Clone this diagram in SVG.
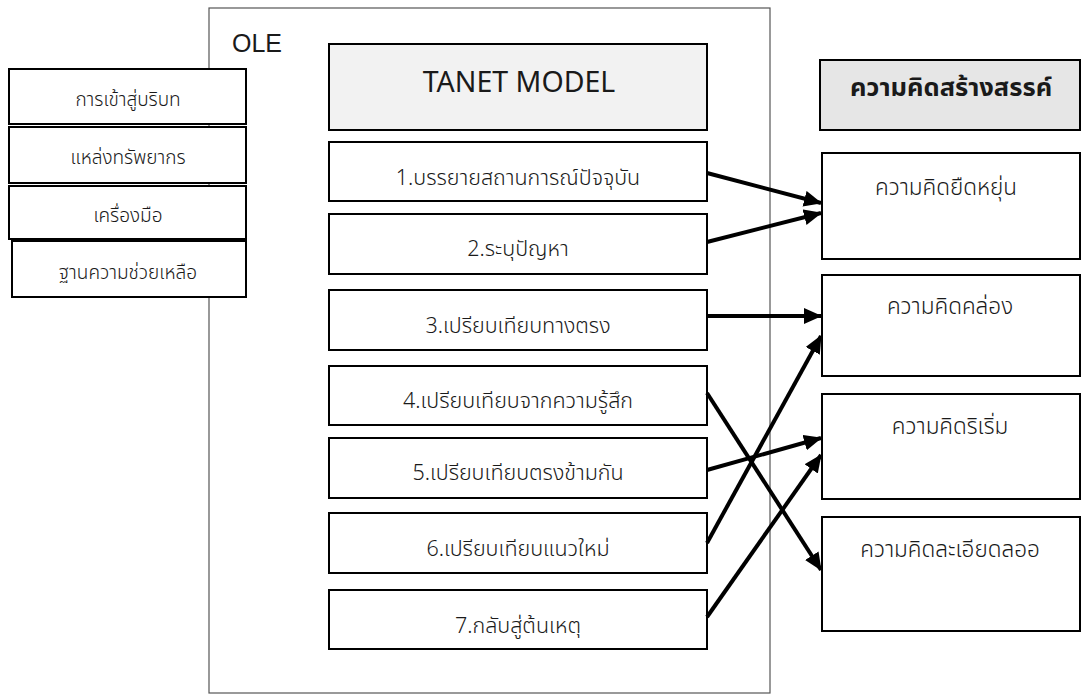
<svg xmlns="http://www.w3.org/2000/svg" width="1083" height="695" viewBox="0 0 1083 695">
  <style>
    .box { fill: #ffffff; stroke: #000000; stroke-width: 2; }
    .head { fill: #f2f2f2; stroke: #000000; stroke-width: 2; }
    .headR { fill: #e6e6e6; stroke: #000000; stroke-width: 2; }
    .frame { fill: #ffffff; stroke: #555555; stroke-width: 1.2; }
    text { font-family: "Noto Sans Thai", "Tahoma", "Leelawadee UI", "Noto Sans", "DejaVu Sans", sans-serif; fill: #1a1a1a; text-anchor: middle; font-weight: 300; }
    .lbl { font-size: 19px; }
    .step { font-size: 21.5px; }
    .out { font-size: 22.5px; }
    .big { font-size: 28.5px; font-weight: 400; }
    .title { font-size: 25.5px; font-weight: bold; }
    .link { stroke: #000000; stroke-width: 4; fill: none; marker-end: url(#arrow); }
  </style>
  <defs>
    <marker id="arrow" markerUnits="userSpaceOnUse" markerWidth="19" markerHeight="17" refX="17" refY="8" orient="auto">
      <path d="M0,0 L18,8 L0,16 z" fill="#000000"/>
    </marker>
  </defs>

  <!-- OLE frame -->
  <g id="ole">
    <rect class="frame" x="209" y="8" width="561" height="685"/>
    <text x="232" y="52" style="font-size:25px; text-anchor:start; font-weight:400; font-family:'Liberation Sans','Noto Sans',sans-serif">OLE</text>
  </g>

  <!-- environment components, left column -->
  <g id="env-context">
    <rect class="box" x="9" y="69" width="237" height="55"/>
    <text class="lbl" x="128" y="106">การเข้าสู่บริบท</text>
  </g>
  <g id="env-resources">
    <rect class="box" x="9" y="127" width="237" height="56"/>
    <text class="lbl" x="128" y="164">แหล่งทรัพยากร</text>
  </g>
  <g id="env-tools">
    <rect class="box" x="9" y="186" width="237" height="53"/>
    <text class="lbl" x="128" y="222">เครื่องมือ</text>
  </g>
  <g id="env-scaffold">
    <rect class="box" x="12" y="241" width="234" height="56"/>
    <text class="lbl" x="128" y="279">ฐานความช่วยเหลือ</text>
  </g>

  <!-- TANET model steps -->
  <g id="tanet">
    <rect class="head" x="329" y="44" width="378" height="86"/>
    <text class="big" x="519" y="92" style="font-family:'Noto Sans','Open Sans',sans-serif">TANET MODEL</text>
  </g>
  <g id="step1">
    <rect class="box" x="329" y="142" width="378" height="59"/>
    <text class="step" x="518" y="185">1.บรรยายสถานการณ์ปัจจุบัน</text>
  </g>
  <g id="step2">
    <rect class="box" x="329" y="214" width="378" height="60"/>
    <text class="step" x="518" y="256">2.ระบุปัญหา</text>
  </g>
  <g id="step3">
    <rect class="box" x="329" y="290" width="378" height="60"/>
    <text class="step" x="518" y="333">3.เปรียบเทียบทางตรง</text>
  </g>
  <g id="step4">
    <rect class="box" x="329" y="366" width="378" height="59"/>
    <text class="step" x="518" y="408">4.เปรียบเทียบจากความรู้สึก</text>
  </g>
  <g id="step5">
    <rect class="box" x="329" y="438" width="378" height="60"/>
    <text class="step" x="518" y="480">5.เปรียบเทียบตรงข้ามกัน</text>
  </g>
  <g id="step6">
    <rect class="box" x="329" y="513" width="378" height="60"/>
    <text class="step" x="518" y="556">6.เปรียบเทียบแนวใหม่</text>
  </g>
  <g id="step7">
    <rect class="box" x="329" y="590" width="378" height="59"/>
    <text class="step" x="518" y="633">7.กลับสู่ต้นเหตุ</text>
  </g>

  <!-- creative thinking outcomes -->
  <g id="creativity">
    <rect class="headR" x="820" y="60" width="260" height="70"/>
    <text class="title" x="951" y="96">ความคิดสร้างสรรค์</text>
  </g>
  <g id="flexibility">
    <rect class="box" x="822" y="153" width="258" height="106"/>
    <text class="out" x="946" y="195">ความคิดยืดหยุ่น</text>
  </g>
  <g id="fluency">
    <rect class="box" x="822" y="275" width="258" height="101"/>
    <text class="out" x="950" y="314">ความคิดคล่อง</text>
  </g>
  <g id="originality">
    <rect class="box" x="822" y="394" width="258" height="105"/>
    <text class="out" x="950" y="434">ความคิดริเริ่ม</text>
  </g>
  <g id="elaboration">
    <rect class="box" x="822" y="517" width="258" height="114"/>
    <text class="out" x="950" y="557">ความคิดละเอียดลออ</text>
  </g>

  <!-- connectors -->
  <g id="connectors">
    <line class="link" x1="707" y1="173" x2="821" y2="203"/>
    <line class="link" x1="707" y1="242" x2="821" y2="213"/>
    <line class="link" x1="707" y1="316" x2="821" y2="316"/>
    <line class="link" x1="707" y1="393" x2="821" y2="570"/>
    <line class="link" x1="707" y1="470" x2="821" y2="438"/>
    <line class="link" x1="707" y1="543" x2="821" y2="336"/>
    <line class="link" x1="707" y1="617" x2="821" y2="455"/>
  </g>
</svg>
